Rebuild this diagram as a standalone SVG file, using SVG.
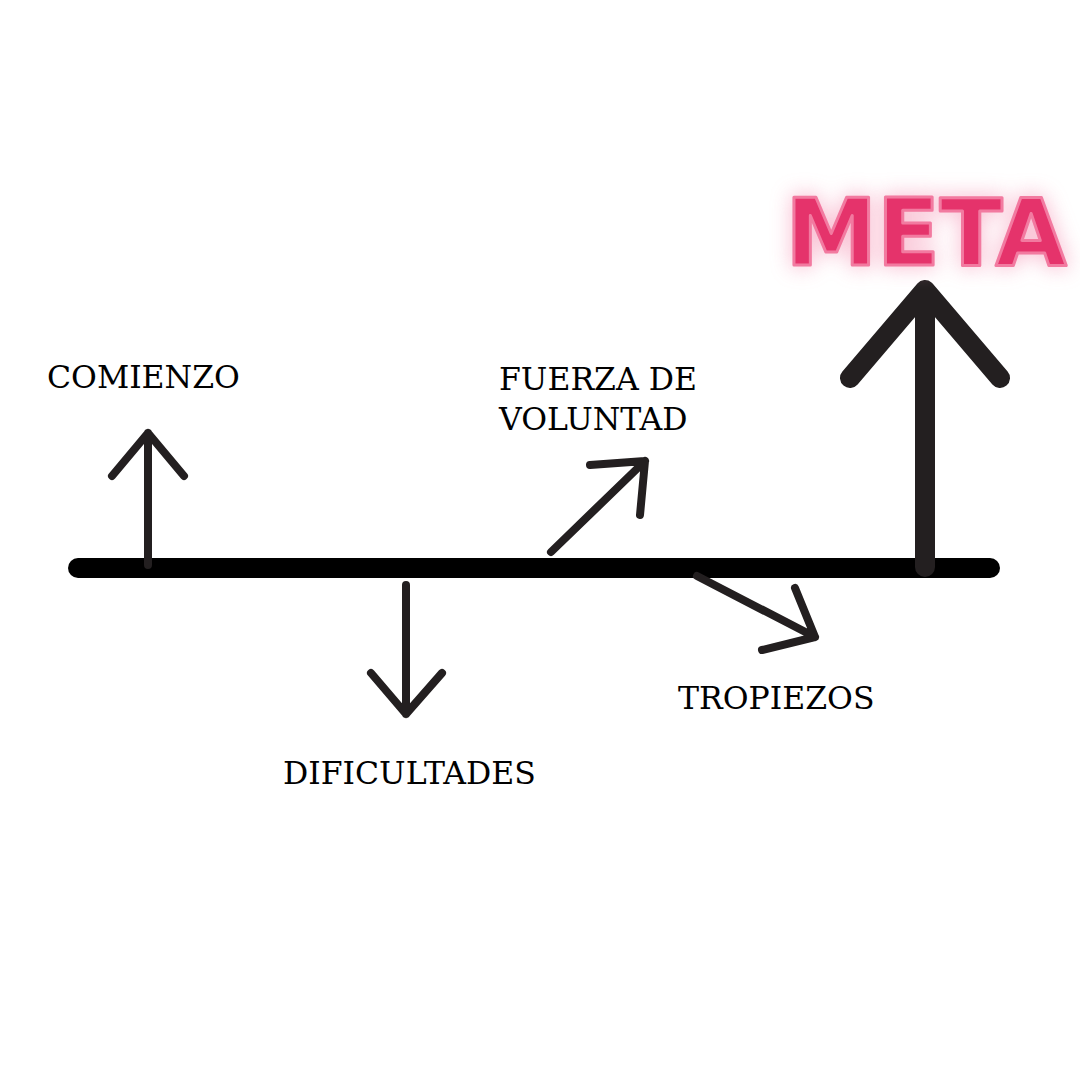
<svg xmlns="http://www.w3.org/2000/svg" width="1080" height="1080" viewBox="0 0 1080 1080">
<defs>
<style>
.arr{fill:none;stroke:#231f20;stroke-width:8;stroke-linecap:round;stroke-linejoin:round}
.big{fill:none;stroke:#231f20;stroke-width:20;stroke-linecap:round;stroke-linejoin:round}
.lbl{font-family:"DejaVu Serif","Liberation Serif",serif;font-size:31.5px;fill:#000}
.meta{font-family:"DejaVu Sans","Liberation Sans",sans-serif;font-weight:bold;font-size:92px}
</style>
<filter id="glow" x="-20%" y="-50%" width="140%" height="200%">
<feGaussianBlur stdDeviation="10"/>
</filter>
</defs>
<rect width="1080" height="1080" fill="#fff"/>
<g id="connectors">
<line id="timeline" x1="78" y1="568" x2="990" y2="568" stroke="#000" stroke-width="20" stroke-linecap="round"/>
<g id="arrow-comienzo"><path class="arr" d="M148 565V433M112 476L148 433L184 476"/></g>
<g id="arrow-dificultades"><path class="arr" d="M406 585V714M371 673L406 714L442 673"/></g>
<g id="arrow-fuerza"><path class="arr" d="M551 552L645 461M590 465L645 461L640 515"/></g>
<g id="arrow-tropiezos"><path class="arr" d="M697 576L815 637M795 588L815 637L762 650"/></g>
<g id="arrow-meta"><path class="big" d="M925 567V290M850 378L925 290L1000 378"/></g>
</g>
<g id="node-comienzo"><text class="lbl" x="47" y="388">COMIENZO</text></g>
<g id="node-fuerza"><text class="lbl" x="499" y="390">FUERZA DE</text><text class="lbl" x="499" y="430">VOLUNTAD</text></g>
<g id="node-dificultades"><text class="lbl" x="283" y="784">DIFICULTADES</text></g>
<g id="node-tropiezos"><text class="lbl" x="678" y="709">TROPIEZOS</text></g>
<g id="node-meta">
<text class="meta" x="926" y="265" text-anchor="middle" fill="#f7a8c2" stroke="#f7a8c2" stroke-width="6" filter="url(#glow)" opacity="0.7">META</text>
<text class="meta" x="926" y="265" text-anchor="middle" fill="#e5336b" stroke="#f27aa0" stroke-width="3" stroke-linejoin="round">META</text>
</g>
</svg>
